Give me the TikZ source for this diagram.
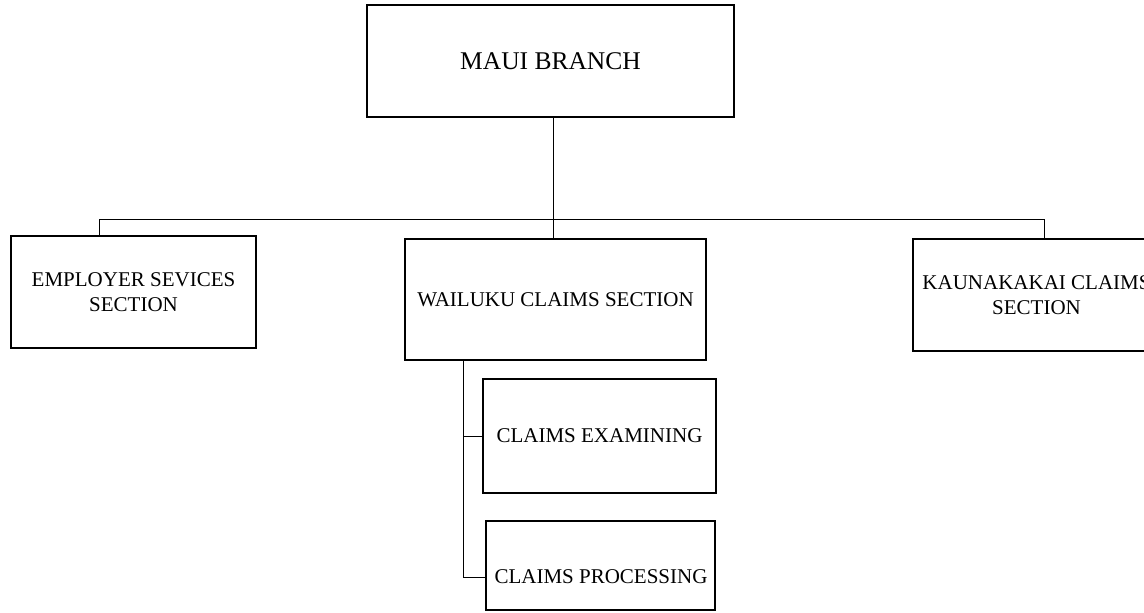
\documentclass[tikz,border=0pt]{standalone}
\usepackage{fontspec}
\setmainfont{Liberation Serif}
\begin{document}
\begin{tikzpicture}[x=1pt,y=1pt,
  box/.style={draw=black, line width=1.4pt, inner sep=0pt, outer sep=0pt, align=center,
    font=\fontsize{21}{25}\selectfont},
  bigbox/.style={box, font=\fontsize{25.5}{30}\selectfont},
  txt/.style={inner sep=0pt, align=center, font=\fontsize{21}{25}\selectfont},
  link/.style={draw=black, line width=0.8pt}]
\clip (0,0) rectangle (1144,-613);
\fill[white] (0,0) rectangle (1144,-613);

\node[bigbox, minimum width=367, minimum height=112] (maui) at (550.5,-61) {MAUI BRANCH};
\node[box, minimum width=245, minimum height=112] (emp) at (133.5,-292) {EMPLOYER SEVICES\\SECTION};
\node[box, minimum width=301, minimum height=121] (wai) at (555.5,-299.5) {WAILUKU CLAIMS SECTION};
\node[box, minimum width=247, minimum height=112] (kau) at (1036.5,-295) {KAUNAKAKAI CLAIMS\\SECTION};
\node[box, minimum width=233, minimum height=114] (exam) at (599.5,-436) {CLAIMS EXAMINING};
\node[box, minimum width=229, minimum height=89] (proc) at (600.5,-565.5) {};
\node[txt] (proctext) at (601,-577) {CLAIMS PROCESSING};

\coordinate (busL) at (99,-219);
\coordinate (busR) at (1044,-219);
\coordinate (mid) at (553,-219);
\coordinate (sub) at (463,-360);

\draw[link] (busL) -- (busR);
\draw[link] (mid |- maui.south) -- (mid |- wai.north);
\draw[link] (busL) -- (busL |- emp.north);
\draw[link] (busR) -- (busR |- kau.north);
\draw[link] (sub |- wai.south) -- (sub |- proctext) -- (proctext -| proc.west);
\draw[link] (sub |- exam.west) -- (exam.west);
\end{tikzpicture}
\end{document}
